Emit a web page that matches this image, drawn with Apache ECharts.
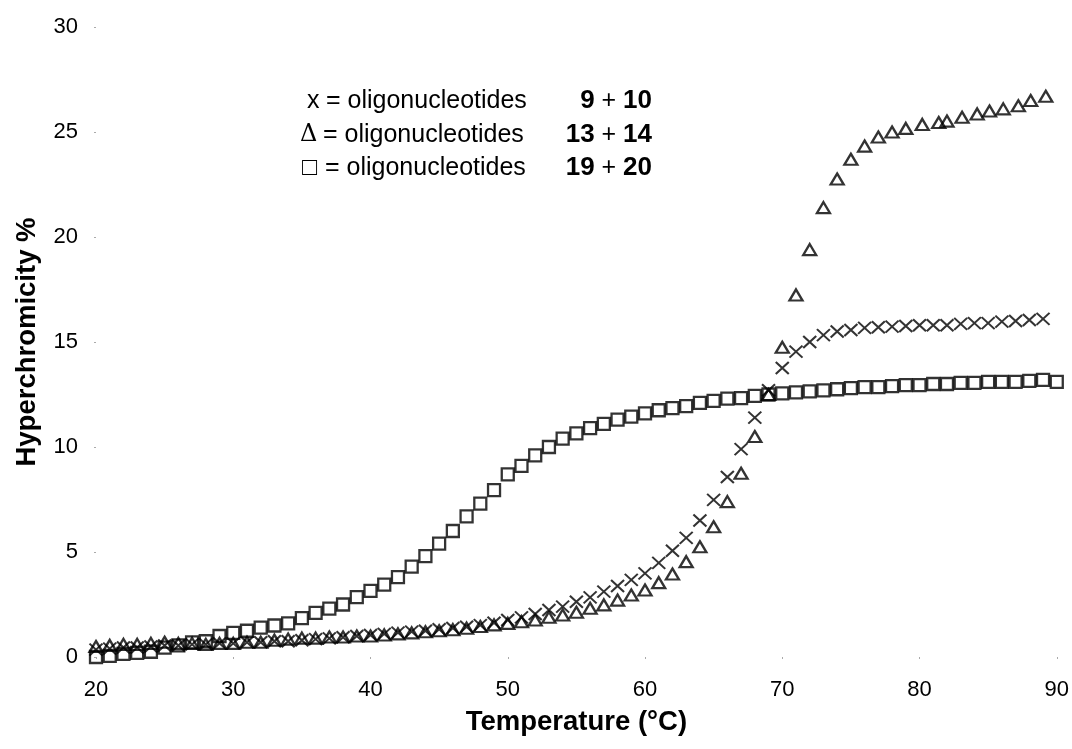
<!DOCTYPE html>
<html>
<head>
<meta charset="utf-8">
<title>Hyperchromicity</title>
<script src="https://cdn.jsdelivr.net/npm/echarts@6/dist/echarts.min.js"></script>
<style>
  html, body { margin: 0; padding: 0; background: #fff; }
  #chart { width: 1072px; height: 749px; }
</style>
</head>
<body>
<div id="chart"></div>
<script>
// temperatures (°C) and hyperchromicity (%)
const tempX = [20,21,22,23,24,25,26,27,28,29,30,31,32,33,34,35,36,37,38,39,40,41,42,43,44,45,46,47,48,49,
  50,51,52,53,54,55,56,57,58,59,60,61,62,63,64,65,66,67,68,69,70,71,72,73,74,75,76,77,78,79,80,81,82,83,84,85,86,87,88,89];
// x = oligonucleotides 9 + 10
const hyperX = [0.35,0.4,0.45,0.45,0.5,0.55,0.55,0.6,0.6,0.65,
  0.65,0.7,0.7,0.75,0.75,0.8,0.85,0.89,0.94,1.0,
  1.05,1.1,1.16,1.21,1.25,1.32,1.38,1.44,1.52,1.63,
  1.76,1.89,2.05,2.24,2.4,2.63,2.84,3.11,3.38,3.67,
  3.98,4.48,5.06,5.67,6.5,7.48,8.57,9.9,11.4,12.7,
  13.76,14.54,15.0,15.33,15.5,15.57,15.67,15.7,15.73,15.76,
  15.8,15.8,15.8,15.86,15.9,15.9,15.97,16.0,16.05,16.1];

// triangle = oligonucleotides 13 + 14
const tempTri = [20,21,22,23,24,25,26,27,28,29,30,31,32,33,34,35,36,37,38,39,40,41,42,43,44,45,46,47,48,49,
  50,51,52,53,54,55,56,57,58,59,60,61,62,63,64,65,66,67,68,69,70,71,72,73,74,75,76,77,78,79,
  80.2,81.4,82.0,83.1,84.2,85.1,86.1,87.2,88.1,89.2];
const hyperTri = [0.5,0.55,0.6,0.6,0.65,0.7,0.65,0.65,0.6,0.65,
  0.65,0.7,0.7,0.8,0.85,0.9,0.9,0.95,0.95,1.0,
  1.0,1.05,1.1,1.15,1.2,1.25,1.3,1.37,1.45,1.53,
  1.6,1.68,1.76,1.89,2.0,2.13,2.32,2.48,2.71,2.95,
  3.19,3.54,3.95,4.54,5.25,6.2,7.4,8.75,10.5,12.5,
  14.75,17.24,19.4,21.4,22.76,23.7,24.33,24.76,25.0,25.17,
  25.36,25.45,25.52,25.7,25.86,26.0,26.1,26.25,26.5,26.7];

// square = oligonucleotides 19 + 20
const tempSq = [20,21,22,23,24,25,26,27,28,29,30,31,32,33,34,35,36,37,38,39,40,41,42,43,44,45,46,47,48,49,
  50,51,52,53,54,55,56,57,58,59,60,61,62,63,64,65,66,67,68,69,70,71,72,73,74,75,76,77,78,79,80,81,82,83,84,85,86,87,88,89,90];
const hyperSq = [0.0,0.05,0.15,0.2,0.25,0.45,0.55,0.7,0.75,1.0,
  1.15,1.25,1.4,1.5,1.6,1.85,2.1,2.3,2.5,2.85,
  3.15,3.45,3.8,4.3,4.8,5.4,6.0,6.7,7.3,7.95,
  8.7,9.1,9.6,10.0,10.4,10.65,10.9,11.1,11.3,11.45,
  11.6,11.75,11.85,11.95,12.1,12.2,12.3,12.33,12.43,12.5,
  12.55,12.6,12.65,12.7,12.75,12.8,12.85,12.85,12.9,12.95,
  12.95,13.0,13.0,13.05,13.05,13.1,13.1,13.1,13.15,13.2,13.1];

const legendMarks = ['x', '\u0394', '\u25A1'];
const legendNums = [['9', '10'], ['13', '14'], ['19', '20']];

const FONT = '"Liberation Sans", Arial, Helvetica, sans-serif';

function pairs(xs, ys) {
  return xs.map((t, i) => [t, ys[i]]);
}

const chart = echarts.init(document.getElementById('chart'), null, { renderer: 'canvas' });

// legend drawn as plain text, like in the figure
const markX = [307, 300, 302];
const textX = [326, 323, 325];
const lineY = [101, 135, 168];
const graphic = [];
legendMarks.forEach((mark, i) => {
  graphic.push({
    type: 'text',
    x: markX[i],
    y: lineY[i],
    style: {
      text: mark,
      font: (i === 1 ? '24px "DejaVu Serif", serif' : '25px ' + FONT),
      fill: '#000',
      align: 'left',
      verticalAlign: 'middle'
    }
  });
  graphic.push({
    type: 'text',
    x: textX[i],
    y: lineY[i],
    style: {
      text: '= oligonucleotides',
      font: '25px ' + FONT,
      fill: '#000',
      align: 'left',
      verticalAlign: 'middle'
    }
  });
  graphic.push({
    type: 'text',
    x: 652,
    y: lineY[i],
    style: {
      text: '{b|' + legendNums[i][0] + '}{n| + }{b|' + legendNums[i][1] + '}',
      align: 'right',
      verticalAlign: 'middle',
      rich: {
        b: { fontFamily: FONT, fontSize: 26, fontWeight: 'bold', fill: '#000' },
        n: { fontFamily: FONT, fontSize: 25, fill: '#000' }
      }
    }
  });
});

const hollow = { color: 'rgba(0,0,0,0)', borderColor: '#000', borderWidth: 2.3 };

chart.setOption({
  backgroundColor: '#fff',
  animation: false,
  textStyle: { fontFamily: FONT },
  grid: { left: 96, right: 13, top: 27, bottom: 92, containLabel: false },
  xAxis: {
    type: 'value',
    min: 20,
    max: 90,
    interval: 10,
    name: 'Temperature (°C)',
    nameLocation: 'middle',
    nameGap: 51,
    nameMoveOverlap: false,
    nameTextStyle: { fontSize: 27.5, fontWeight: 'bold', color: '#000', fontFamily: FONT, verticalAlign: 'top' },
    axisLine: { show: false },
    axisTick: { show: true, length: 2, lineStyle: { color: '#aaa', width: 1 } },
    axisLabel: { fontSize: 22, color: '#000', margin: 22, fontFamily: FONT },
    splitLine: { show: false }
  },
  yAxis: {
    type: 'value',
    min: 0,
    max: 30,
    interval: 5,
    name: 'Hyperchromicity %',
    nameLocation: 'middle',
    nameGap: 55,
    nameMoveOverlap: false,
    nameRotate: 90,
    nameTextStyle: { fontSize: 27.5, fontWeight: 'bold', color: '#000', fontFamily: FONT },
    axisLine: { show: false },
    axisTick: { show: true, length: 2, lineStyle: { color: '#aaa', width: 1 } },
    axisLabel: { fontSize: 22, color: '#000', margin: 18, fontFamily: FONT },
    splitLine: { show: false }
  },
  graphic: graphic,
  series: [
    {
      name: '19 + 20',
      type: 'scatter',
      symbol: 'rect',
      symbolSize: [12, 12],
      itemStyle: hollow,
      emphasis: { disabled: true },
      z: 2,
      data: pairs(tempSq, hyperSq)
    },
    {
      name: '13 + 14',
      type: 'scatter',
      symbol: 'triangle',
      symbolSize: [13, 11],
      itemStyle: hollow,
      emphasis: { disabled: true },
      z: 3,
      data: pairs(tempTri, hyperTri)
    },
    {
      name: '9 + 10',
      type: 'scatter',
      symbol: 'path://M0,0L10,10M10,0L0,10',
      symbolSize: [13, 12],
      itemStyle: { color: 'rgba(0,0,0,0)', borderColor: '#000', borderWidth: 2 },
      emphasis: { disabled: true },
      z: 4,
      data: pairs(tempX, hyperX)
    }
  ]
});

window.onresize = () => {
  chart.resize();
};
</script>
</body>
</html>
